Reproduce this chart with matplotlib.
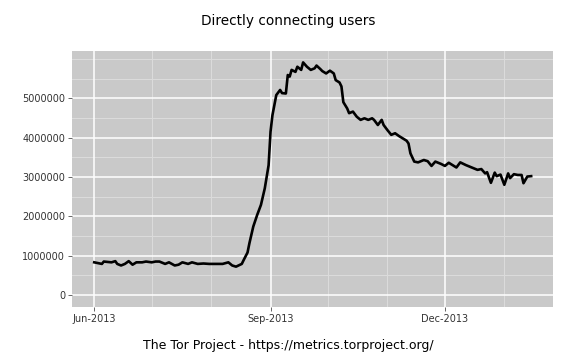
import matplotlib
matplotlib.use("Agg")
import matplotlib.pyplot as plt
import matplotlib.dates as mdates
import numpy as np
import datetime as dt

start_date = "2013-06-01"
day_offsets = [0, 4, 5, 9, 11, 12, 14, 16, 18, 20, 22, 25, 27, 30, 32, 34, 37, 39, 42, 44,
               46, 49, 51, 54, 57, 60, 64, 67, 70, 72, 74, 77, 78, 80, 81, 83, 85, 87, 89, 91,
               92, 93, 95, 97, 98, 100, 101, 102, 103, 105, 106, 108, 109, 111, 113, 115, 116,
               118, 119, 121, 123, 125, 126, 128, 129, 130, 132, 133, 135, 137, 139, 141, 143,
               145, 146, 148, 150, 151, 153, 155, 157, 159, 161, 163, 164, 165, 167, 169, 172,
               174, 176, 178, 181, 183, 185, 189, 191, 194, 196, 198, 200, 202, 204, 205, 207,
               209, 210, 212, 214, 216, 217, 219, 221, 223, 224, 226, 228]
users_millions = [0.83, 0.79, 0.85, 0.83, 0.86, 0.79, 0.75, 0.79, 0.86, 0.77, 0.83, 0.83, 0.85,
                  0.83, 0.85, 0.85, 0.79, 0.83, 0.75, 0.77, 0.83, 0.79, 0.83, 0.79, 0.80, 0.79,
                  0.79, 0.79, 0.83, 0.75, 0.72, 0.79, 0.89, 1.08, 1.32, 1.74, 2.03, 2.29, 2.71,
                  3.30, 4.15, 4.57, 5.08, 5.21, 5.13, 5.12, 5.59, 5.55, 5.72, 5.67, 5.80, 5.72,
                  5.91, 5.80, 5.72, 5.76, 5.83, 5.74, 5.69, 5.63, 5.70, 5.63, 5.46, 5.40, 5.30,
                  4.90, 4.74, 4.62, 4.66, 4.53, 4.45, 4.49, 4.45, 4.49, 4.45, 4.32, 4.45, 4.32,
                  4.19, 4.07, 4.11, 4.04, 3.98, 3.92, 3.85, 3.60, 3.39, 3.37, 3.43, 3.40, 3.28,
                  3.39, 3.33, 3.28, 3.36, 3.24, 3.37, 3.30, 3.26, 3.22, 3.18, 3.20, 3.09, 3.12,
                  2.85, 3.11, 3.02, 3.06, 2.80, 3.09, 2.97, 3.07, 3.05, 3.05, 2.84, 3.01, 3.02]

y_ticks = [0, 1000000, 2000000, 3000000, 4000000, 5000000]
x_tick_dates = ["2013-06-01", "2013-09-01", "2013-12-01"]
x_tick_labels = ["Jun-2013", "Sep-2013", "Dec-2013"]
x_minor_dates = ["2013-07-01", "2013-08-01", "2013-10-01", "2013-11-01", "2014-01-01"]
y_minor = [500000, 1500000, 2500000, 3500000, 4500000, 5500000, 6000000]

title = "Directly connecting users"
caption = "The Tor Project - https://metrics.torproject.org/"

d0 = dt.datetime.strptime(start_date, "%Y-%m-%d")
dates = [d0 + dt.timedelta(days=d) for d in day_offsets]
values = [v * 1e6 for v in users_millions]

fig = plt.figure(figsize=(5.76, 3.6), dpi=100)
ax = fig.add_axes([72/576, 1 - 307/360, (553-72)/576, (307-51)/360])
ax.set_facecolor("#C9C9C9")

for s in ax.spines.values():
    s.set_visible(False)

xmin = mdates.date2num(d0 - dt.timedelta(days=11.6))
xmax = mdates.date2num(d0 + dt.timedelta(days=239.4))
ax.set_xlim(xmin, xmax)
ax.set_ylim(-305000, 6200000)

# minor grid
for md in x_minor_dates:
    ax.axvline(mdates.date2num(dt.datetime.strptime(md, "%Y-%m-%d")), color="#DCDCDC", lw=0.7, zorder=1)
for ym in y_minor:
    ax.axhline(ym, color="#DCDCDC", lw=0.7, zorder=1)
# major grid
xt = [mdates.date2num(dt.datetime.strptime(s, "%Y-%m-%d")) for s in x_tick_dates]
for x in xt:
    ax.axvline(x, color="white", lw=1.1, zorder=1)
for y in y_ticks:
    ax.axhline(y, color="white", lw=1.1, zorder=1)

ax.plot(mdates.date2num(dates), values, color="black", lw=1.9, zorder=3, solid_joinstyle="round")

ax.set_xticks(xt)
ax.set_xticklabels(x_tick_labels)
ax.set_yticks(y_ticks)
ax.set_yticklabels([str(v) for v in y_ticks])
ax.tick_params(axis="both", which="major", length=3, width=0.6, color="#4D4D4D",
               labelsize=7, labelcolor="#333333", pad=2)

fig.text(0.5, 1 - 21/360, title, ha="center", va="center", fontsize=9.8, color="black")
fig.text(0.5, 1 - 345/360, caption, ha="center", va="center", fontsize=9, color="black")

fig.savefig("out.png", dpi=100)
